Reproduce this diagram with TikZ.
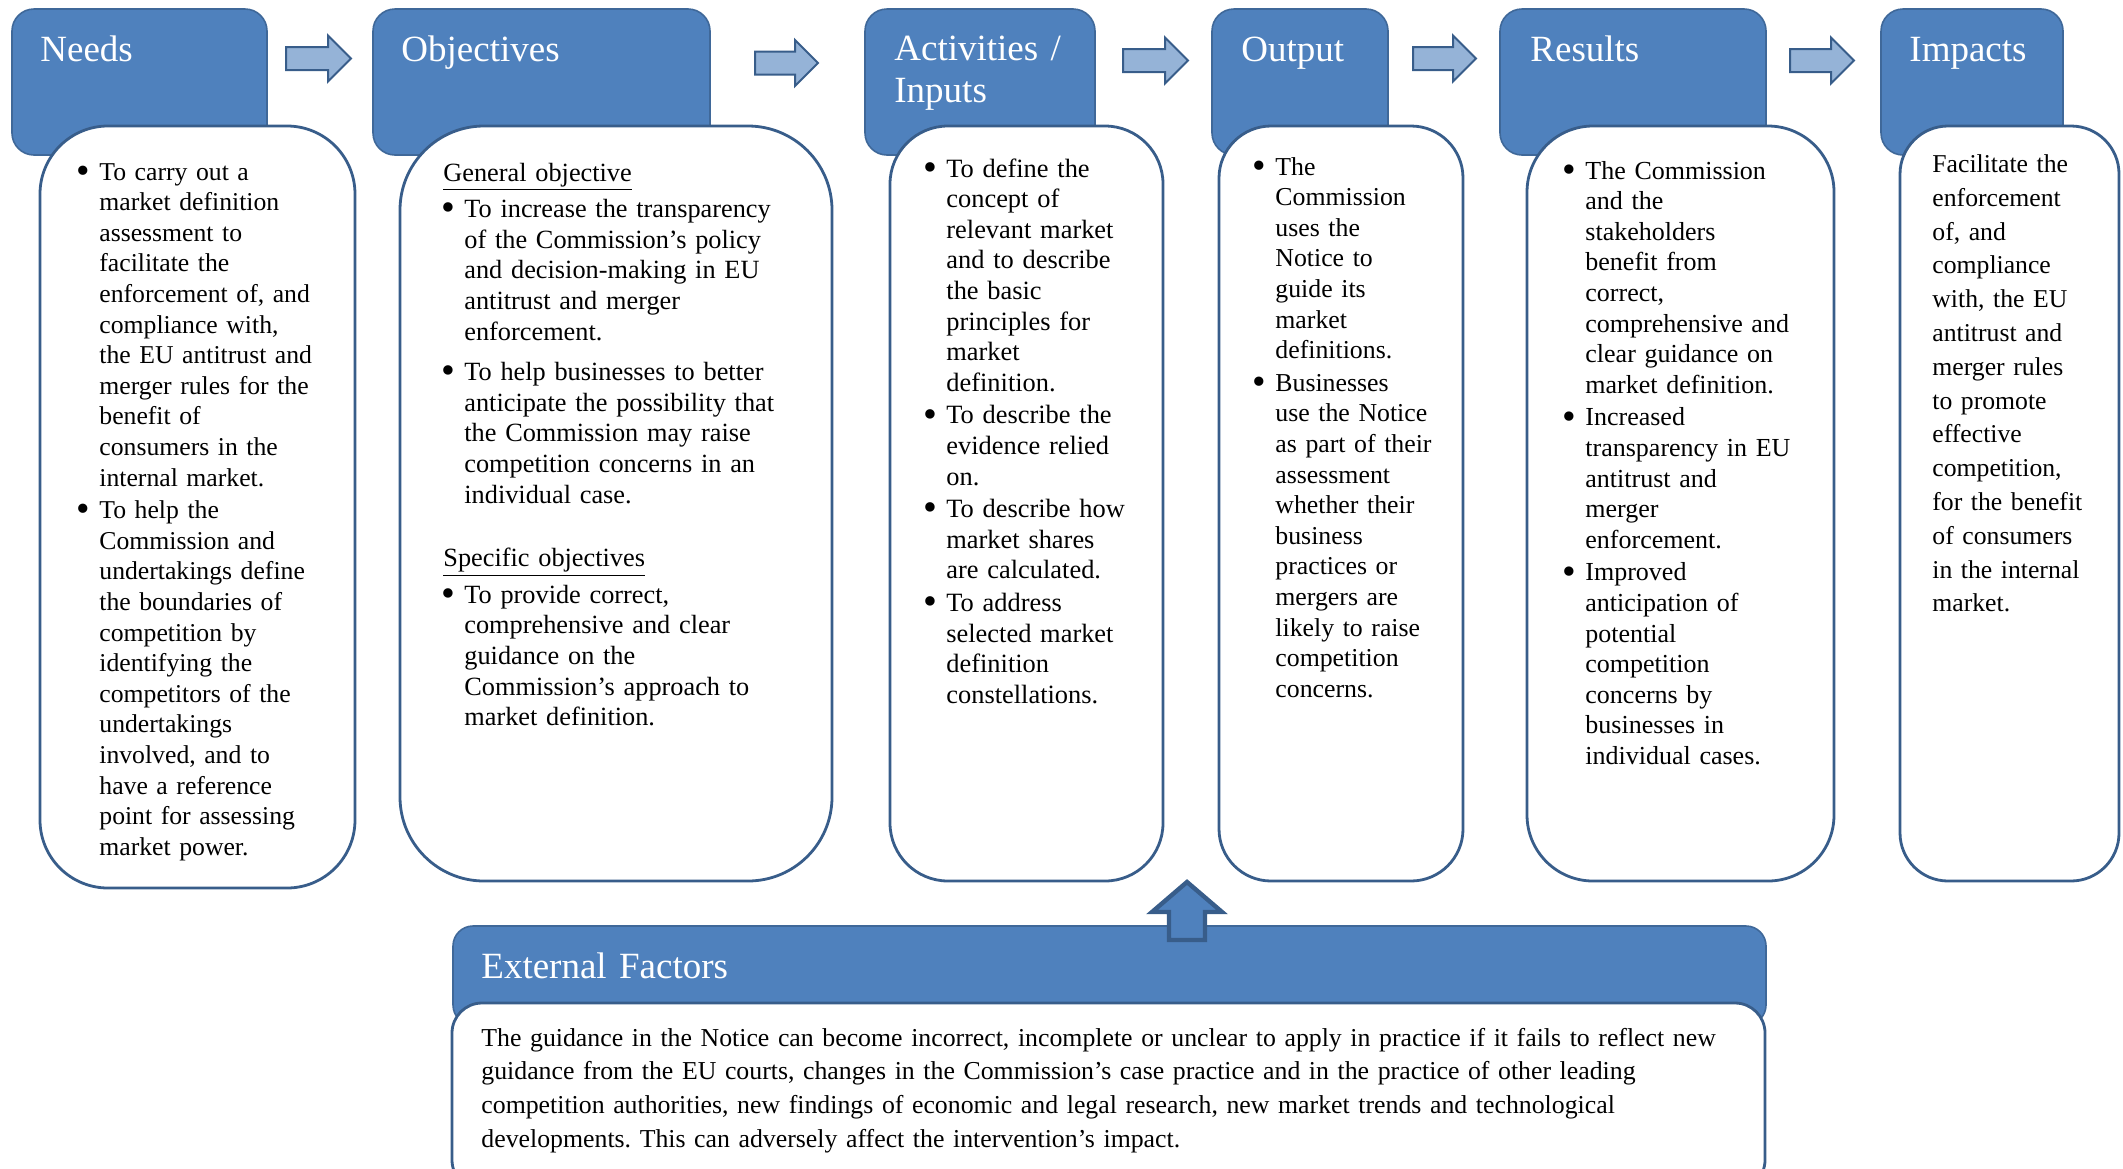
\documentclass[tikz,border=0pt]{standalone}
\usepackage{fontspec}
\setmainfont{Liberation Serif}
\usetikzlibrary{fit}
\definecolor{hdrblue}{HTML}{4F81BD}
\definecolor{edgeblue}{HTML}{385D8A}
\definecolor{arrowlight}{HTML}{95B3D7}
\newcommand\bu{\leavevmode\llap{\raisebox{-1.6pt}{\scalebox{1.5}{\textbullet}}\hspace{4.6pt}}}
\newcommand\blockarrow[3]{%
  \draw[rarrow] (#1,{#3-11.5}) -- ({#2-23},{#3-11.5}) -- ({#2-23},{#3-23}) -- (#2,#3) -- ({#2-23},{#3+23}) -- ({#2-23},{#3+11.5}) -- (#1,{#3+11.5}) -- cycle;}
\frenchspacing
\begin{document}
\begin{tikzpicture}[x=0.5pt,y=-0.5pt,
  hdr/.style={rectangle, rounded corners=11pt, fill=hdrblue, draw=edgeblue!70!hdrblue, line width=0.8pt, inner sep=0pt},
  bodybox/.style={rectangle, fill=white, draw=edgeblue, line width=1.4pt, inner sep=0pt},
  hdrtext/.style={anchor=base west, inner sep=0pt, text=white, font=\fontsize{18.5pt}{21pt}\selectfont, align=left, text width=200pt},
  bodytext/.style={anchor=base west, inner sep=0pt, font=\fontsize{#1}{15.3pt}\selectfont, align=left, text width=220pt},
  widetext/.style={anchor=base west, inner sep=0pt, font=\fontsize{#1}{16.9pt}\selectfont, align=left, text width=220pt},
  rarrow/.style={fill=arrowlight, draw=edgeblue, line width=1pt, line join=miter},
  uparrow/.style={fill=hdrblue, draw=edgeblue, line width=2.2pt, line join=miter}]
\useasboundingbox (0,0) rectangle (2123,1168);
\clip (0,0) rectangle (2123,1168);

% headers
\node[hdr, fit={(12,9) (267,155)}] (needsH) {};
\node[hdr, fit={(373,9) (710,155)}] (objH) {};
\node[hdr, fit={(865,9) (1095,155)}] (actH) {};
\node[hdr, fit={(1212,9) (1388,155)}] (outH) {};
\node[hdr, fit={(1500,9) (1766,155)}] (resH) {};
\node[hdr, fit={(1881,9) (2063,155)}] (impH) {};

% bodies
\node[bodybox, rounded corners=34pt, fit={(40,126) (355,888)}] (needsB) {};
\node[bodybox, rounded corners=42pt, fit={(400,126) (832,881)}] (objB) {};
\node[bodybox, rounded corners=29pt, fit={(890,126) (1163,881)}] (actB) {};
\node[bodybox, rounded corners=26pt, fit={(1219,126) (1463,881)}] (outB) {};
\node[bodybox, rounded corners=33pt, fit={(1527,126) (1834,881)}] (resB) {};
\node[bodybox, rounded corners=24pt, fit={(1900,126) (2119,881)}] (impB) {};

% header texts
\node[hdrtext] (needsL) at (40,61) {Needs};
\node[hdrtext] (objL) at (401,61) {Objectives};
\node[hdrtext] (actL) at (894,60) {Activities /\\Inputs};
\node[hdrtext] (outL) at (1241,61) {Output};
\node[hdrtext] (resL) at (1530,61) {Results};
\node[hdrtext] (impL) at (1909,61) {Impacts};

% body texts
\node[bodytext=12.85pt] (needsT) at (99,180) {\bu To carry out a\\ market definition\\ assessment to\\ facilitate the\\ enforcement of, and\\ compliance with,\\ the EU antitrust and\\ merger rules for the\\ benefit of\\ consumers in the\\ internal market.\\[1pt]
\bu To help the\\ Commission and\\ undertakings define\\ the boundaries of\\ competition by\\ identifying the\\ competitors of the\\ undertakings\\ involved, and to\\ have a reference\\ point for assessing\\ market power.};

\node[bodytext=13.15pt] (objT) at (464,181) {\hspace*{-10.5pt}\underline{General objective}\\[3pt]
\bu To increase the transparency\\ of the Commission’s policy\\ and decision-making in EU\\ antitrust and merger\\ enforcement.\\[5pt]
\bu To help businesses to better\\ anticipate the possibility that\\ the Commission may raise\\ competition concerns in an\\ individual case.\\[16.5pt]
\hspace*{-10.5pt}\underline{Specific objectives}\\[3pt]
\bu To provide correct,\\ comprehensive and clear\\ guidance on the\\ Commission’s approach to\\ market definition.};

\node[bodytext=13.2pt] (actT) at (946,177) {\bu To define the\\ concept of\\ relevant market\\ and to describe\\ the basic\\ principles for\\ market\\ definition.\\[1pt]
\bu To describe the\\ evidence relied\\ on.\\[1pt]
\bu To describe how\\ market shares\\ are calculated.\\[1pt]
\bu To address\\ selected market\\ definition\\ constellations.};

\node[bodytext=12.9pt] (outT) at (1275,175) {\bu The\\ Commission\\ uses the\\ Notice to\\ guide its\\ market\\ definitions.\\[1pt]
\bu Businesses\\ use the Notice\\ as part of their\\ assessment\\ whether their\\ business\\ practices or\\ mergers are\\ likely to raise\\ competition\\ concerns.};

\node[bodytext=13pt] (resT) at (1585,179) {\bu The Commission\\ and the\\ stakeholders\\ benefit from\\ correct,\\ comprehensive and\\ clear guidance on\\ market definition.\\[1pt]
\bu Increased\\ transparency in EU\\ antitrust and\\ merger\\ enforcement.\\[1pt]
\bu Improved\\ anticipation of\\ potential\\ competition\\ concerns by\\ businesses in\\ individual cases.};

\node[widetext=12.85pt] (impT) at (1932,172.5) {Facilitate the\\ enforcement\\ of, and\\ compliance\\ with, the EU\\ antitrust and\\ merger rules\\ to promote\\ effective\\ competition,\\ for the benefit\\ of consumers\\ in the internal\\ market.};

% right arrows
\blockarrow{286}{351}{58.5}
\blockarrow{755}{818}{63}
\blockarrow{1123}{1188}{60.5}
\blockarrow{1413}{1476}{58.5}
\blockarrow{1790}{1854}{60.5}

% external factors
\node[hdr, rounded corners=10pt, fit={(453,926) (1766,1025)}] (extH) {};
\node[hdrtext, text width=400pt] (extL) at (481,978) {External Factors};
\draw[uparrow] (1169,940) -- (1169,912) -- (1152,912) -- (1187,882) -- (1222,912) -- (1205,912) -- (1205,940) -- cycle;
\node[bodybox, rounded corners=15pt, fit={(452,1003) (1765,1190)}] (extB) {};
\node[widetext=12.9pt, text width=700pt] (extT) at (481,1046) {The guidance in the Notice can become incorrect, incomplete or unclear to apply in practice if it fails to reflect new\\ guidance from the EU courts, changes in the Commission’s case practice and in the practice of other leading\\ competition authorities, new findings of economic and legal research, new market trends and technological\\ developments. This can adversely affect the intervention’s impact.};
\end{tikzpicture}
\end{document}
